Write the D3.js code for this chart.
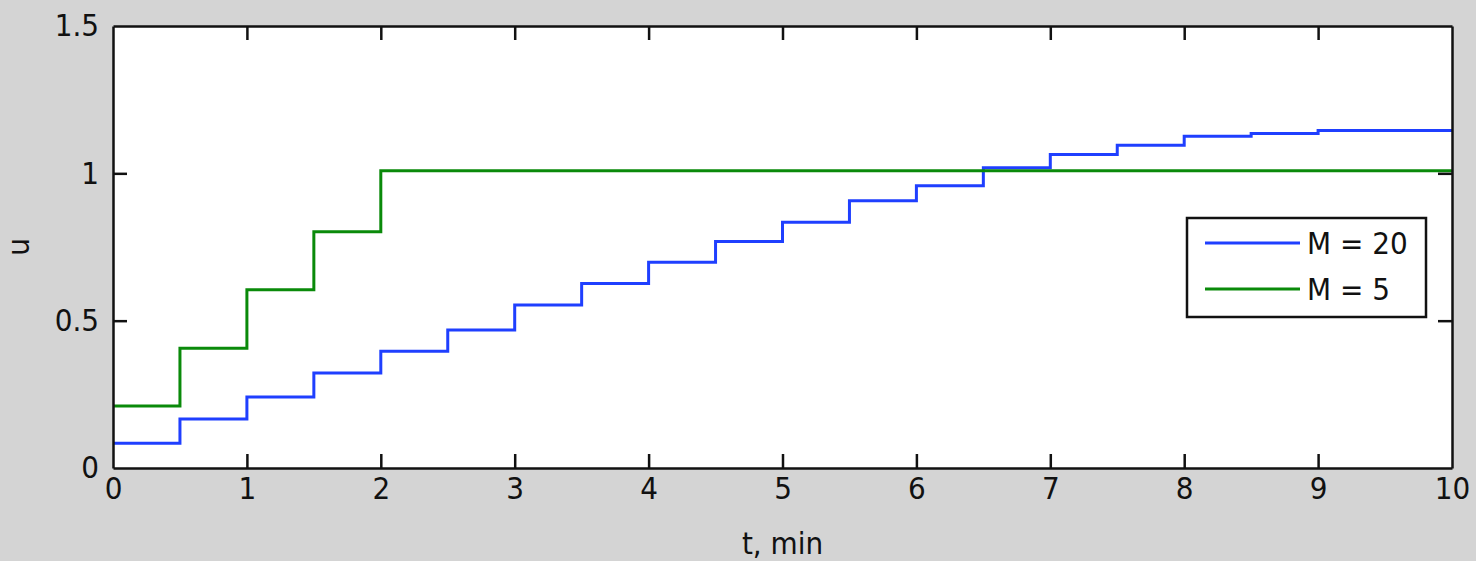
<!DOCTYPE html>
<html>
<head>
<meta charset="utf-8">
<script src="https://cdn.jsdelivr.net/npm/d3@7"></script>
<style>
  body { margin: 0; background: #d4d4d4; }
  svg text { font-family: "Liberation Sans Narrow", "DejaVu Sans Condensed", "Liberation Sans", sans-serif; fill: #111; }
</style>
</head>
<body>
<div id="chart"></div>
<script>
// control signal, step every 0.5 min
let timesM20 = [0, 0.5, 1, 1.5, 2, 2.5, 3, 3.5, 4, 4.5, 5, 5.5, 6, 6.5, 7, 7.5, 8, 8.5, 9, 9.5, 10];
let valuesM20 = [0.084, 0.166, 0.241, 0.322, 0.396, 0.468, 0.553, 0.626, 0.698, 0.769, 0.834,
    0.907, 0.958, 1.019, 1.064, 1.095, 1.126, 1.135, 1.145, 1.145, 1.145];
let timesM5 = [0, 0.5, 1, 1.5, 2, 10];
let valuesM5 = [0.21, 0.406, 0.605, 0.802, 1.009, 1.009];

let xTicks = [0, 1, 2, 3, 4, 5, 6, 7, 8, 9, 10];
let yTicks = [0, 0.5, 1, 1.5];
let seriesNames = ["M = 20", "M = 5"];
let seriesColors = ["#1f3fff", "#0a8a0a"];

var W = 1476, H = 561;
var margin = {top: 26, right: 24, bottom: 93, left: 113},
    width = W - margin.left - margin.right,
    height = H - margin.top - margin.bottom;

var svg = d3.select("#chart").append("svg")
    .attr("width", W)
    .attr("height", H);

svg.append("rect").attr("width", W).attr("height", H).attr("fill", "#d4d4d4");

var g = svg.append("g")
    .attr("transform", "translate(" + margin.left + "," + margin.top + ")");

var x = d3.scaleLinear().domain([0, 10]).range([0, width]);
var y = d3.scaleLinear().domain([0, 1.5]).range([height, 0]);

g.append("rect")
    .attr("width", width)
    .attr("height", height)
    .attr("fill", "white");

// step lines
var line = d3.line()
    .x(function (d) { return x(d[0]); })
    .y(function (d) { return y(d[1]); })
    .curve(d3.curveStepAfter);

let series = [
    d3.zip(timesM20, valuesM20),
    d3.zip(timesM5, valuesM5)
];

series.forEach(function (s, i) {
    g.append("path")
        .datum(s)
        .attr("fill", "none")
        .attr("stroke", seriesColors[i])
        .attr("stroke-width", 3)
        .attr("d", line);
});

// axes, ticks inward on all four sides
var tickLen = 14;
var fontSize = 31;

var xAxisB = g.append("g")
    .attr("transform", "translate(0," + height + ")")
    .call(d3.axisBottom(x).tickValues(xTicks).tickSizeInner(-tickLen).tickSizeOuter(0).tickPadding(12).tickFormat(d3.format("d")));
var xAxisT = g.append("g")
    .call(d3.axisTop(x).tickValues(xTicks).tickSizeInner(-tickLen).tickSizeOuter(0).tickFormat(""));
var yAxisL = g.append("g")
    .call(d3.axisLeft(y).tickValues(yTicks).tickSizeInner(-tickLen).tickSizeOuter(0).tickPadding(14).tickFormat(function (d) { return d === 0 || d === 1 ? d3.format("d")(d) : d; }));
var yAxisR = g.append("g")
    .attr("transform", "translate(" + width + ",0)")
    .call(d3.axisRight(y).tickValues(yTicks).tickSizeInner(-tickLen).tickSizeOuter(0).tickFormat(""));

[xAxisB, xAxisT, yAxisL, yAxisR].forEach(function (a) {
    a.select(".domain").attr("stroke", "#111").attr("stroke-width", 2.5);
    a.selectAll(".tick line").attr("stroke", "#111").attr("stroke-width", 2.5);
    a.selectAll(".tick text").attr("font-size", fontSize).attr("fill", "#111")
        .style("font-family", "'Liberation Sans Narrow', 'DejaVu Sans Condensed', sans-serif");
});
xAxisB.selectAll(".tick text").attr("dy", "0.6em");
// MATLAB hides the extreme tick marks where they touch the border
xAxisB.selectAll(".tick").filter(function (d) { return d === 0 || d === 10; }).select("line").remove();
xAxisT.selectAll(".tick").filter(function (d) { return d === 0 || d === 10; }).select("line").remove();
yAxisL.selectAll(".tick").filter(function (d) { return d === 0 || d === 1.5; }).select("line").remove();
yAxisR.selectAll(".tick").filter(function (d) { return d === 0 || d === 1.5; }).select("line").remove();

// axis labels
svg.append("text")
    .attr("x", margin.left + width / 2)
    .attr("y", 554)
    .attr("text-anchor", "middle")
    .attr("font-size", fontSize)
    .text("t, min");

svg.append("text")
    .attr("transform", "translate(29," + (margin.top + height / 2) + ") rotate(-90)")
    .attr("text-anchor", "middle")
    .attr("font-size", fontSize)
    .text("u");

// legend
var legend = svg.append("g").attr("transform", "translate(1187,218)");
legend.append("rect")
    .attr("width", 239)
    .attr("height", 99)
    .attr("fill", "white")
    .attr("stroke", "#111")
    .attr("stroke-width", 2.5);

seriesNames.forEach(function (name, i) {
    var yy = 25 + i * 46;
    legend.append("line")
        .attr("x1", 18).attr("x2", 113)
        .attr("y1", yy).attr("y2", yy)
        .attr("stroke", seriesColors[i])
        .attr("stroke-width", 3);
    legend.append("text")
        .attr("x", 120)
        .attr("y", yy)
        .attr("dy", "0.36em")
        .attr("font-size", fontSize)
        .text(name);
});
</script>
</body>
</html>
